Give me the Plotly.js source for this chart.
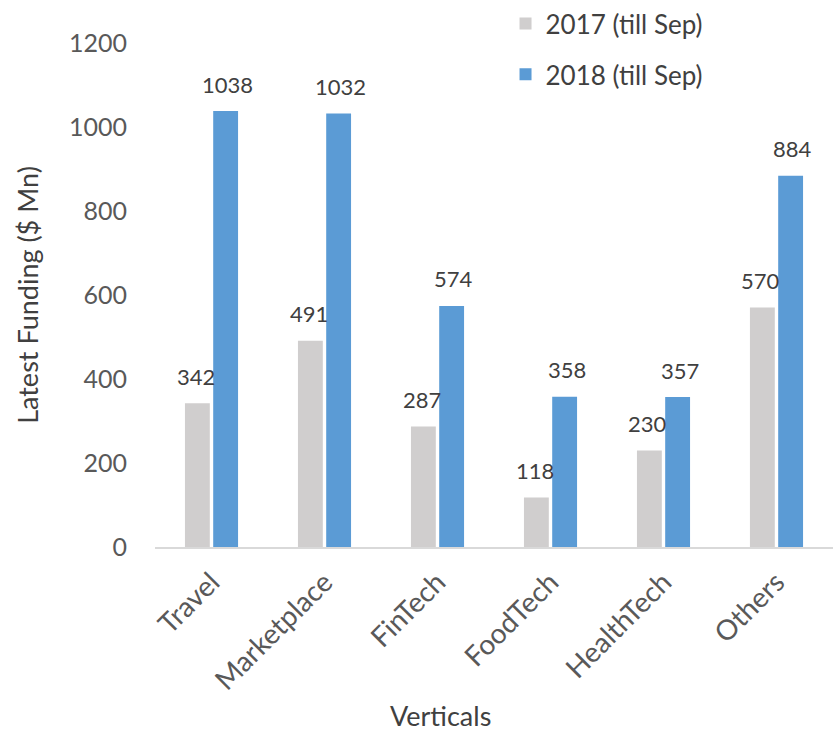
<!DOCTYPE html>
<html><head><meta charset="utf-8">
<script src="https://cdn.plot.ly/plotly-3.0.1.min.js"></script>
<style>body{margin:0}#c{width:833px;height:734px}</style>
</head><body><div id="c"></div>
<script>
const categories = ["Travel","Marketplace","FinTech","FoodTech","HealthTech","Others"];
const values2017 = [342,491,287,118,230,570];
const values2018 = [1038,1032,574,358,357,884];
const seriesNames = ["2017 (till Sep)","2018 (till Sep)"];
const xTitle = "Verticals";
const yTitle = "Latest Funding ($ Mn)";
const FONT = "Lato, 'Open Sans', sans-serif";
const traces = [
 {type:'bar', x:categories, y:values2017, name:seriesNames[0], legendgroup:'a',
  marker:{color:'#d0cece'}},
 {type:'bar', x:categories, y:values2018, name:seriesNames[1], legendgroup:'b',
  marker:{color:'#5b9bd5'}}
];
const annotations = [];
[values2017, values2018].forEach((vals, s) => {
  vals.forEach((v, i) => annotations.push({
    x: categories[i], y: v, xref:'x', yref:'y', text:String(v), showarrow:false,
    xshift: s === 0 ? -16 : 16, yshift: 27, yanchor:'middle',
    font:{family:FONT,size:22,color:'#404040'}
  }));
});
annotations.push({xref:'paper', yref:'paper', x:(440-155)/678, y:-(717-547)/509, text:xTitle,
  showarrow:false, xanchor:'center', yanchor:'middle', font:{family:FONT,size:27,color:'#404040'}});
const layout = {
 width:833, height:734,
 margin:{l:155,r:0,t:38,b:187},
 paper_bgcolor:'#fff', plot_bgcolor:'#fff',
 font:{family:FONT,color:'#595959'},
 barmode:'group', bargap:0.5, bargroupgap:0.12,
 showlegend:true,
 legend:{x:0.517,y:1.085,xanchor:'left',yanchor:'top',font:{size:26,color:'#404040'},
   tracegroupgap:14, bgcolor:'rgba(0,0,0,0)'},
 annotations: annotations,
 xaxis:{tickangle:-45, tickfont:{size:28,color:'#595959'}, showline:true, linecolor:'#d9d9d9', linewidth:1.5,
   ticks:'outside', ticklen:6, tickcolor:'rgba(0,0,0,0)'},
 yaxis:{range:[0,1200], dtick:200, showgrid:false, zeroline:false, showline:false,
   ticks:'outside', ticklen:22, tickcolor:'rgba(0,0,0,0)',
   tickfont:{size:25,color:'#595959'},
   title:{text:yTitle, font:{size:27,color:'#404040'}, standoff:22}}
};
Plotly.newPlot('c', traces, layout, {displayModeBar:false});
</script></body></html>
